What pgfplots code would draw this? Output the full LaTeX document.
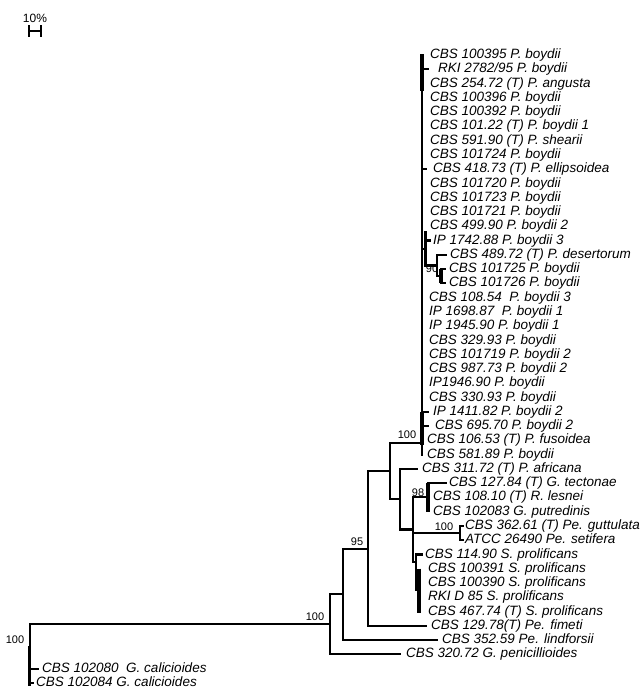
\documentclass[border=0pt]{standalone}
\usepackage{fontspec}
\setmainfont{Liberation Sans}
\usepackage{pgfplots}
\pgfplotsset{compat=1.18}
\newcommand{\leaf}[3]{\node[anchor=base west, inner sep=0pt, yshift=-0.36em, font=\fontsize{13.5}{14}\selectfont\itshape] at (axis cs:#1,#2) {#3};}
\newcommand{\boot}[3]{\node[anchor=base, inner sep=0pt, yshift=-0.36em, font=\fontsize{11}{12}\selectfont] at (axis cs:#1,#2) {#3};}
\begin{document}
\begin{tikzpicture}
\begin{axis}[width=638pt, height=698pt, scale only axis,
  xmin=0, xmax=638, ymin=-2.854, ymax=46.06, y dir=reverse,
  hide axis, clip=false,
  br/.style={black, line width=2.1pt, mark=none, line cap=rect, line join=miter},
  tk/.style={black, line width=3.8pt, mark=none, line cap=butt}]
% frame for bounding box
\addplot[draw=none, mark=none] coordinates {(0,-2.854) (638,46.06)};
% scale bar
\addplot[black, line width=2.6pt, mark=none] coordinates {(29,-0.68) (41,-0.68)};
\addplot[black, line width=2.6pt, mark=none] coordinates {(29,-1.10) (29,-0.26)};
\addplot[black, line width=2.6pt, mark=none] coordinates {(41,-1.10) (41,-0.26)};
\node[anchor=base, inner sep=0pt, font=\fontsize{12}{13}\selectfont] at (axis cs:35,-1.31) {10\%};
% root and G. calicioides
\addplot[br] coordinates {(330,40.9) (30,40.9) (30,45)};
\addplot[tk] coordinates {(29.5,42.4) (29.5,45.2)};
\addplot[br] coordinates {(30,44) (38,44)};
\addplot[br] coordinates {(30,45) (33,45)};
% ingroup backbone
\addplot[br] coordinates {(343,38.8) (330,38.8) (330,43) (400,43)};
\addplot[br] coordinates {(368,35.6) (343,35.6) (343,42) (437,42)};
\addplot[br] coordinates {(390,30.15) (368,30.15) (368,41) (426,41)};
\addplot[br] coordinates {(422,28.2) (390,28.2) (390,32.1) (400,32.1)};
\addplot[br] coordinates {(417,30) (400,30) (400,34.25) (413,34.25)};
\addplot[br] coordinates {(428,32) (413,32) (413,36.5) (416,36.5)};
\addplot[br] coordinates {(413,34.5) (460,34.5)};
% G. tectonae clade
\addplot[tk] coordinates {(428,31) (428,33)};
\addplot[br] coordinates {(428,31) (446,31)};
% Petriella clade
\addplot[br] coordinates {(463,34) (460,34) (460,35) (463,35)};
% S. prolificans clade
\addplot[br] coordinates {(422,36) (416,36) (416,38.5) (419,38.5)};
\addplot[tk] coordinates {(419,37) (419,40.1)};
% P. boydii clade
\addplot[br] coordinates {(422,1) (422,29)};
\addplot[tk] coordinates {(422,0.95) (422,3.5)};
\addplot[tk] coordinates {(422,26) (422,28.3)};
\addplot[br] coordinates {(422,2) (428,2)};
\addplot[br] coordinates {(422,9) (426,9)};
\addplot[br] coordinates {(422,26) (428,26)};
\addplot[br] coordinates {(422,27) (428,27)};
\addplot[br] coordinates {(422,14.6) (425.5,14.6)};
\addplot[br] coordinates {(425.5,13.4) (425.5,15.75) (437,15.75)};
\addplot[br] coordinates {(425.5,14) (430,14)};
\addplot[br] coordinates {(446,15) (437,15) (437,16.5) (441,16.5)};
\addplot[tk] coordinates {(441,16) (441,17)};
\addplot[br] coordinates {(441,16) (445,16)};
\addplot[br] coordinates {(441,17) (445,17)};
% bootstrap values
\boot{15}{42.0}{100}
\boot{315}{40.4}{100}
\boot{357}{35.1}{95}
\boot{407}{27.6}{100}
\boot{418}{31.7}{98}
\boot{444}{34.1}{100}
\boot{432}{16.0}{90}
% leaf labels
\leaf{430}{1}{CBS 100395 P. boydii}
\leaf{438}{2}{RKI 2782/95 P. boydii}
\leaf{430}{3}{CBS 254.72 (T) P. angusta}
\leaf{430}{4}{CBS 100396 P. boydii}
\leaf{430}{5}{CBS 100392 P. boydii}
\leaf{430}{6}{CBS 101.22 (T) P. boydii 1}
\leaf{430}{7}{CBS 591.90 (T) P. shearii}
\leaf{430}{8}{CBS 101724 P. boydii}
\leaf{433}{9}{CBS 418.73 (T) P. ellipsoidea}
\leaf{430}{10}{CBS 101720 P. boydii}
\leaf{430}{11}{CBS 101723 P. boydii}
\leaf{430}{12}{CBS 101721 P. boydii}
\leaf{430}{13}{CBS 499.90 P. boydii 2}
\leaf{433}{14}{IP 1742.88 P. boydii 3}
\leaf{450}{15}{CBS 489.72 (T) P. desertorum}
\leaf{449}{16}{CBS 101725 P. boydii}
\leaf{449}{17}{CBS 101726 P. boydii}
\leaf{429}{18}{CBS 108.54\ \ P. boydii 3}
\leaf{429}{19}{IP 1698.87\ \ P. boydii 1}
\leaf{429}{20}{IP 1945.90 P. boydii 1}
\leaf{429}{21}{CBS 329.93 P. boydii}
\leaf{429}{22}{CBS 101719 P. boydii 2}
\leaf{429}{23}{CBS 987.73 P. boydii 2}
\leaf{429}{24}{IP1946.90 P. boydii}
\leaf{429}{25}{CBS 330.93 P. boydii}
\leaf{433}{26}{IP 1411.82 P. boydii 2}
\leaf{435}{27}{CBS 695.70 P. boydii 2}
\leaf{427}{28}{CBS 106.53 (T) P. fusoidea}
\leaf{427}{29}{CBS 581.89 P. boydii}
\leaf{422}{30}{CBS 311.72 (T) P. africana}
\leaf{449}{31}{CBS 127.84 (T) G. tectonae}
\leaf{433}{32}{CBS 108.10 (T) R. lesnei}
\leaf{433}{33}{CBS 102083 G. putredinis}
\leaf{465}{34}{CBS 362.61 (T) Pe. guttulata}
\leaf{465}{35}{ATCC 26490 Pe. setifera}
\leaf{425}{36}{CBS 114.90 S. prolificans}
\leaf{428}{37}{CBS 100391 S. prolificans}
\leaf{428}{38}{CBS 100390 S. prolificans}
\leaf{428}{39}{RKI D 85 S. prolificans}
\leaf{428}{40}{CBS 467.74 (T) S. prolificans}
\leaf{431}{41}{CBS 129.78(T) Pe. fimeti}
\leaf{442}{42}{CBS 352.59 Pe. lindforsii}
\leaf{406}{43}{CBS 320.72 G. penicillioides}
\leaf{42}{44}{CBS 102080\ \ G. calicioides}
\leaf{36}{45}{CBS 102084 G. calicioides}
\end{axis}
\end{tikzpicture}
\end{document}
